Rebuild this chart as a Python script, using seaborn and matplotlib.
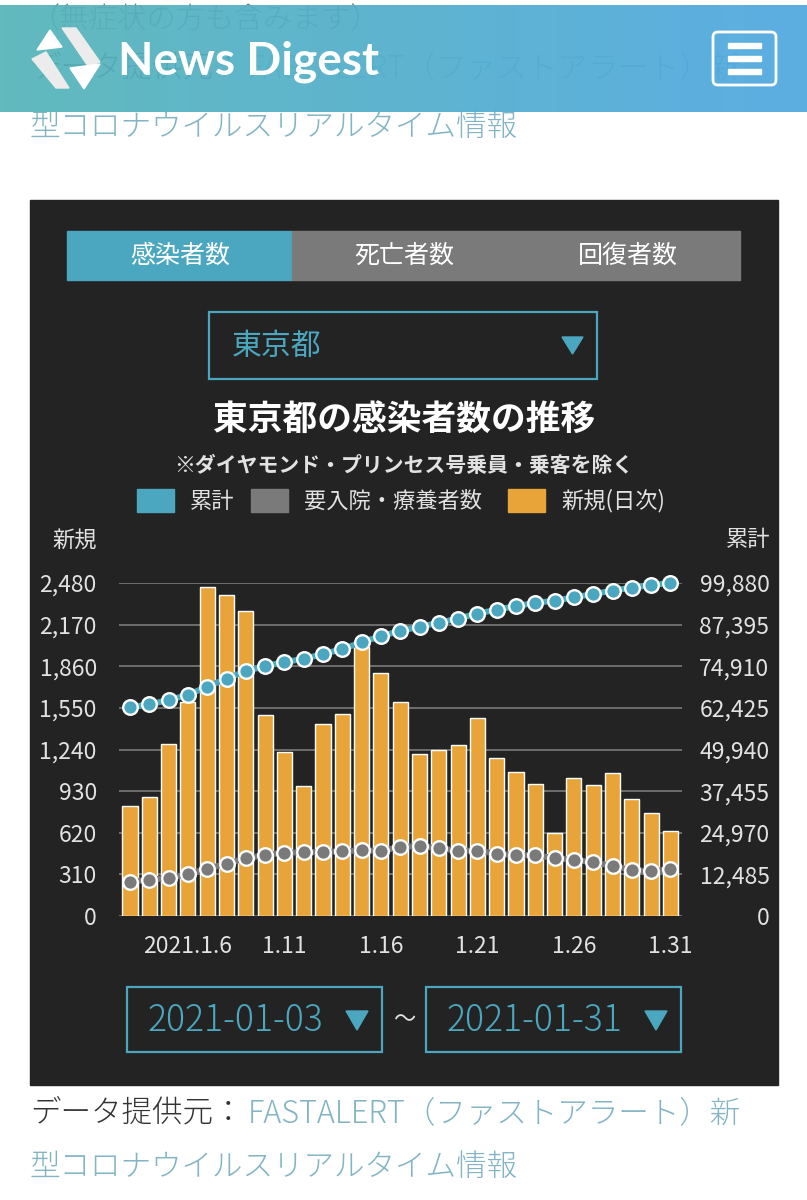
import numpy as np
import pandas as pd
import matplotlib
matplotlib.use("Agg")
import matplotlib.pyplot as plt
from matplotlib.patches import Rectangle, Polygon, FancyBboxPatch
import seaborn as sns

# data (Tokyo, 2021-01-03 .. 2021-01-31)
days = ["1/%d" % d for d in range(3, 32)]
new_cases = [816, 884, 1278, 1591, 2447, 2392, 2268, 1494, 1219, 970, 1433, 1502, 2001, 1809,
             1592, 1204, 1240, 1274, 1471, 1175, 1070, 986, 618, 1026, 973, 1064, 868, 769, 633]
cumulative = [62590, 63474, 64752, 66343, 68790, 71182, 73450, 74944, 76163, 77133, 78566, 80068,
              82112, 83921, 85513, 86717, 87957, 89231, 90702, 91877, 92947, 93933, 94551, 95577,
              96550, 97614, 98482, 99251, 99880]
inpatients = [10300, 10800, 11500, 12500, 14200, 15700, 17300, 18300, 19000, 19100, 19200, 19400,
              19700, 19500, 20700, 21000, 20300, 19600, 19600, 18700, 18200, 18300, 17300, 16800,
              16200, 15000, 13800, 13400, 14100]
left_ticks = [0, 310, 620, 930, 1240, 1550, 1860, 2170, 2480]
right_ticks = [0, 12485, 24970, 37455, 49940, 62425, 74910, 87395, 99880]
xtick_pos = [3, 8, 13, 18, 23, 28]
xtick_labels = ["2021.1.6", "1.11", "1.16", "1.21", "1.26", "1.31"]

df = pd.DataFrame({"day": days, "new": new_cases, "total": cumulative, "care": inpatients,
                   "idx": range(len(days))})

TEAL = "#4ba7bf"
GREY = "#7a7a7a"
ORANGE = "#e8a438"
PANEL = "#232323"
TXT = "#e2e2e2"
LINK = "#82b4c3"

sns.set_style("white")
plt.rcParams["font.family"] = ["Noto Sans CJK JP", "DejaVu Sans"]

W, H = 807, 1200
fig = plt.figure(figsize=(W / 100, H / 100), dpi=100, facecolor="white")

# page layer in pixel coords
bg = fig.add_axes([0, 0, 1, 1], zorder=0)
bg.set_xlim(0, W)
bg.set_ylim(H, 0)
bg.axis("off")

# page text (partly under the header)
bg.text(30, 20, "（無症状の方も含みます）", fontsize=21, color="#777777", va="center", fontweight="light")
bg.text(30, 68, "データ提供元：", fontsize=22, color="#333333", va="center", fontweight="light")
bg.text(248, 68, "FASTALERT（ファストアラート）新", fontsize=22, color=LINK, va="center", fontweight="light")
bg.text(30, 127, "型コロナウイルスリアルタイム情報", fontsize=22, color=LINK, va="center", fontweight="light")

# header bar with gradient
grad = np.linspace(0, 1, 256)
c0 = np.array([86, 181, 185]) / 255
c1 = np.array([79, 168, 224]) / 255
img = (c0[None, :] * (1 - grad[:, None]) + c1[None, :] * grad[:, None])[None, :, :]
bg.imshow(img, extent=[0, W, 112, 5], aspect="auto", alpha=0.93, zorder=5)
bg.set_xlim(0, W)
bg.set_ylim(H, 0)
# logo
bg.add_patch(Polygon([(50, 30), (37, 50), (62, 47)], closed=True, color="white", zorder=6))
bg.add_patch(Polygon([(32, 59), (46, 52), (69, 88), (56, 88)], closed=True, color="#ececec", zorder=6))
bg.add_patch(Polygon([(62, 28), (76, 28), (100, 62), (88, 66)], closed=True, color="#ececec", zorder=6))
bg.add_patch(Polygon([(70, 68), (100, 64), (84, 89)], closed=True, color="white", zorder=6))
bg.text(118, 62, "News Digest", fontsize=33, color="white", family=["Lato", "DejaVu Sans"],
        fontweight="bold", va="center", zorder=6)
# menu button
bg.add_patch(FancyBboxPatch((713, 32), 63, 53, boxstyle="round,pad=0,rounding_size=5",
                            fill=False, ec="white", lw=2, zorder=6))
for yy in [45, 58, 71]:
    bg.add_patch(Rectangle((728, yy - 2), 33, 4.5, color="white", zorder=6))

# dark panel
bg.add_patch(Rectangle((30, 200), 748, 885, color=PANEL, zorder=1))

# tabs
bg.add_patch(Rectangle((67, 231), 225, 49, color=TEAL, zorder=2))
bg.add_patch(Rectangle((292, 231), 448, 49, color=GREY, zorder=2))
for xx, t in zip([180, 404, 628], ["感染者数", "死亡者数", "回復者数"]):
    bg.text(xx, 256, t, fontsize=18, color="white", ha="center", va="center", zorder=3)

# prefecture dropdown
bg.add_patch(Rectangle((209, 312), 388, 67, fill=False, ec=TEAL, lw=1.6, zorder=2))
bg.text(232, 346, "東京都", fontsize=21.5, color=TEAL, va="center", zorder=3)
bg.add_patch(Polygon([(562, 337), (583, 337), (572.5, 354)], closed=True, color=TEAL, zorder=3))

# titles
bg.text(404, 420, "東京都の感染者数の推移", fontsize=25, fontweight="bold", color="white",
        ha="center", va="center", zorder=3)
bg.text(404, 465, "※ダイヤモンド・プリンセス号乗員・乗客を除く", fontsize=15, fontweight="bold",
        color=TXT, ha="center", va="center", zorder=3)

# legend
for x0, col, lab in [(137, TEAL, "累計"), (251, GREY, "要入院・療養者数"), (508, ORANGE, "新規(日次)")]:
    bg.add_patch(Rectangle((x0, 489), 37, 23, color=col, zorder=3))
    bg.text(x0 + 53, 501, lab, fontsize=16, color=TXT, va="center", zorder=3)

bg.text(75, 540, "新規", fontsize=16, color=TXT, ha="center", va="center", zorder=3)
bg.text(748, 540, "累計", fontsize=16, color=TXT, ha="center", va="center", zorder=3)

# date range selectors
for x0, lab in [(127, "2021-01-03"), (426, "2021-01-31")]:
    bg.add_patch(Rectangle((x0, 987), 255, 65, fill=False, ec=TEAL, lw=1.6, zorder=2))
    bg.text(x0 + 20, 1021, lab, fontsize=25.5, color=TEAL, va="center", zorder=3, fontweight="light")
    bg.add_patch(Polygon([(x0 + 219, 1011), (x0 + 241, 1011), (x0 + 230, 1030)], closed=True,
                         color=TEAL, zorder=3))
bg.text(404, 1020, "〜", fontsize=16, color=TXT, ha="center", va="center", zorder=3)

# source text below panel
bg.text(30, 1113, "データ提供元：", fontsize=22, color="#333333", va="center", fontweight="light")
bg.text(248, 1113, "FASTALERT（ファストアラート）新", fontsize=22, color=LINK, va="center", fontweight="light")
bg.text(30, 1167, "型コロナウイルスリアルタイム情報", fontsize=22, color=LINK, va="center", fontweight="light")

# chart axes
ax = fig.add_axes([119 / W, 1 - 916 / H, 563 / W, 333 / H], zorder=2)
ax.set_facecolor("none")
sns.barplot(data=df, x="day", y="new", color=ORANGE, saturation=1, width=0.78, ax=ax, zorder=2)
ax.set_ylim(0, 2480)
ax.set_yticks(left_ticks)
ax.set_yticklabels([f"{v:,}" for v in left_ticks])
ax.yaxis.grid(True, color=GREY, lw=1.2)
ax.set_axisbelow(True)
ax.set_xlabel("")
ax.set_ylabel("")
for s in ax.spines.values():
    s.set_visible(False)
ax.tick_params(axis="y", length=0, pad=16, labelsize=16.5, labelcolor=TXT)

ax2 = ax.twinx()
ax2.set_facecolor("none")
sns.lineplot(data=df, x="idx", y="total", color=TEAL, lw=4.3, marker="o", markersize=10.5,
             markerfacecolor=TEAL, markeredgecolor="white", markeredgewidth=1.7, ax=ax2, clip_on=False)
sns.lineplot(data=df, x="idx", y="care", color=GREY, lw=4.3, marker="o", markersize=10.5,
             markerfacecolor=GREY, markeredgecolor="white", markeredgewidth=1.7, ax=ax2, clip_on=False)
ax2.set_ylim(0, 99880)
ax2.set_yticks(right_ticks)
ax2.set_yticklabels([f"{v:,}" for v in right_ticks])
ax2.set_ylabel("")
for s in ax2.spines.values():
    s.set_visible(False)
ax2.tick_params(axis="y", length=0, pad=63, labelsize=16.5, labelcolor=TXT)
for lab in ax2.get_yticklabels():
    lab.set_horizontalalignment("right")

ax.set_xlim(-0.57, 28.6)
ax.set_xticks(xtick_pos)
ax.set_xticklabels(xtick_labels)
ax.tick_params(axis="x", length=0, pad=14, labelsize=16.5, labelcolor=TXT)
ax2.set_xlabel("")

fig.savefig("out.png", dpi=100, facecolor="white")
